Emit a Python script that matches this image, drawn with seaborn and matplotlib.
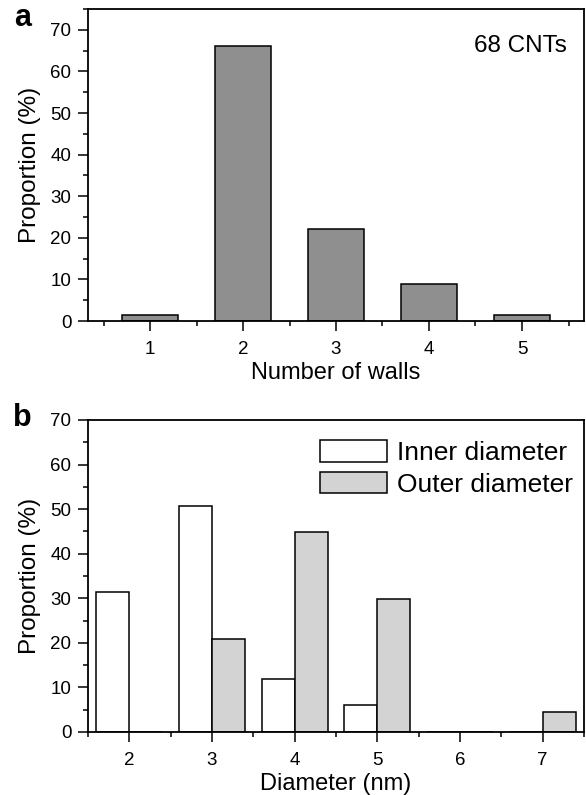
import pandas as pd
import matplotlib
matplotlib.use("Agg")
import matplotlib.pyplot as plt
from matplotlib.patches import Patch
from matplotlib.ticker import MultipleLocator
import seaborn as sns

# ------------------------------------------------
# Data
# ------------------------------------------------

walls = [1, 2, 3, 4, 5]
walls_prop = [1.5, 66.2, 22.1, 8.8, 1.5]

diameters = [2, 3, 4, 5, 6, 7]
inner_prop = [31.3, 50.7, 11.9, 6.0, 0.0, 0.0]
outer_prop = [0.0, 20.9, 44.8, 29.9, 0.0, 4.5]

series_names = ["Inner diameter", "Outer diameter"]

sns.set_theme(style="ticks")
plt.rcParams["font.family"] = ["Liberation Sans", "DejaVu Sans"]
plt.rcParams["axes.linewidth"] = 1.3
plt.rcParams["text.color"] = "black"
plt.rcParams["axes.labelcolor"] = "black"
plt.rcParams["xtick.color"] = "black"
plt.rcParams["ytick.color"] = "black"
plt.rcParams["xtick.labelcolor"] = "black"
plt.rcParams["ytick.labelcolor"] = "black"

fig = plt.figure(figsize=(5.86, 7.95), dpi=100)

ax_a = fig.add_axes([88 / 586, 1 - 321 / 795, 496 / 586, 312 / 795])
ax_b = fig.add_axes([88 / 586, 1 - 732 / 795, 496 / 586, 312 / 795])

# ------------------------------------------------
# Panel a: number of walls
# ------------------------------------------------

df_a = pd.DataFrame({"walls": walls, "prop": walls_prop})

sns.barplot(
    data=df_a, x="walls", y="prop",
    native_scale=True, width=0.6,
    color="#8f8f8f", saturation=1,
    edgecolor="black", linewidth=1.1,
    ax=ax_a
)

ax_a.set_xlim(1 / 3, 17 / 3)
ax_a.set_ylim(0, 75)
ax_a.set_xticks(walls)
ax_a.set_yticks(range(0, 71, 10))
ax_a.xaxis.set_minor_locator(MultipleLocator(1, offset=0.5))
ax_a.yaxis.set_minor_locator(MultipleLocator(5))
ax_a.set_xlabel("Number of walls", fontsize=17, labelpad=3)
ax_a.set_ylabel("Proportion (%)", fontsize=17.5, labelpad=7)
ax_a.text(0.966, 0.862, "68 CNTs", transform=ax_a.transAxes,
          ha="right", va="baseline", fontsize=17.5)

# ------------------------------------------------
# Panel b: diameters
# ------------------------------------------------

df_b = pd.DataFrame({
    "diameter": diameters * 2,
    "prop": inner_prop + outer_prop,
    "kind": [series_names[0]] * len(diameters) + [series_names[1]] * len(diameters),
})

palette = {series_names[0]: "white", series_names[1]: "#d3d3d3"}

sns.barplot(
    data=df_b, x="diameter", y="prop", hue="kind",
    hue_order=series_names, palette=palette,
    native_scale=True, width=0.8, saturation=1,
    edgecolor="black", linewidth=1.1,
    legend=False, ax=ax_b
)

ax_b.set_xlim(1.5, 7.5)
ax_b.set_ylim(0, 70)
ax_b.set_xticks(diameters)
ax_b.set_yticks(range(0, 71, 10))
ax_b.xaxis.set_minor_locator(MultipleLocator(1, offset=0.5))
ax_b.yaxis.set_minor_locator(MultipleLocator(5))
ax_b.set_xlabel("Diameter (nm)", fontsize=17, labelpad=3)
ax_b.set_ylabel("Proportion (%)", fontsize=17.5, labelpad=7)

handles = [Patch(facecolor=palette[n], edgecolor="black", linewidth=1.1) for n in series_names]
ax_b.legend(
    handles, series_names,
    loc="upper right", bbox_to_anchor=(0.978, 0.935),
    frameon=False, fontsize=19,
    handlelength=2.55, handleheight=0.87,
    handletextpad=0.38, labelspacing=0.25,
    borderpad=0, borderaxespad=0
)

# ------------------------------------------------
# Common styling
# ------------------------------------------------

for ax in (ax_a, ax_b):
    for side in ["top", "right", "left", "bottom"]:
        ax.spines[side].set_visible(True)
        ax.spines[side].set_color("black")
    ax.tick_params(which="major", direction="out", length=7, width=1.1,
                   labelsize=13.5, color="black", labelcolor="black")
    ax.tick_params(axis="x", which="major", pad=7.5)
    ax.tick_params(axis="y", which="major", pad=5)
    ax.tick_params(which="minor", direction="out", length=3.6, width=1.1,
                   color="black")
    ax.tick_params(top=False, right=False, which="both")

fig.text(14 / 586, 1 - 26 / 795, "a", fontsize=22, fontweight="bold", va="baseline")
fig.text(13 / 586, 1 - 426 / 795, "b", fontsize=22, fontweight="bold", va="baseline")

fig.savefig("out.png", dpi=100)
plt.close(fig)
